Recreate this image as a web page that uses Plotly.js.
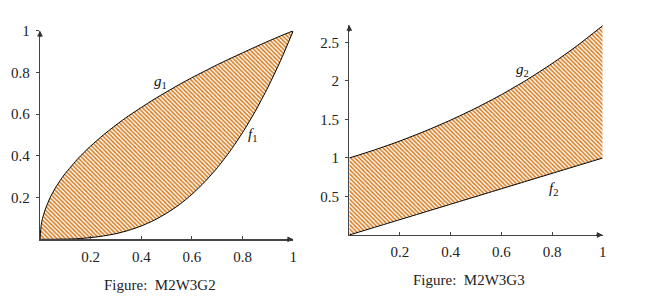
<!DOCTYPE html>
<html>
<head>
<meta charset="utf-8">
<script src="https://cdn.plot.ly/plotly-3.0.1.min.js"></script>
<style>
  html, body { margin: 0; padding: 0; background: #fff; }
  #chart { width: 647px; height: 298px; }
</style>
</head>
<body>
<div id="chart"></div>
<script>
// Region between g1 and f1 on [0, 1]
const x1 = [0, 0.005, 0.01, 0.02, 0.04, 0.06, 0.08, 0.1, 0.15, 0.2, 0.25, 0.3, 0.35, 0.4, 0.45, 0.5, 0.55, 0.6, 0.65, 0.7, 0.75, 0.8, 0.85, 0.9, 0.95, 1];
const g1 = [0, 0.071, 0.1, 0.141, 0.2, 0.245, 0.283, 0.316, 0.387, 0.447, 0.5, 0.548, 0.592, 0.632, 0.671, 0.707, 0.742, 0.775, 0.806, 0.837, 0.866, 0.894, 0.922, 0.949, 0.975, 1];
const f1 = [0, 0, 0, 0, 0, 0, 0.001, 0.001, 0.003, 0.008, 0.016, 0.027, 0.043, 0.064, 0.091, 0.125, 0.166, 0.216, 0.275, 0.343, 0.422, 0.512, 0.614, 0.729, 0.857, 1];

// Region between g2 and f2 on [0, 1]
const x2 = [0, 0.1, 0.2, 0.3, 0.4, 0.5, 0.6, 0.7, 0.8, 0.9, 1];
const g2 = [1, 1.105, 1.221, 1.35, 1.492, 1.649, 1.822, 2.014, 2.226, 2.46, 2.718];
const f2 = [0, 0.1, 0.2, 0.3, 0.4, 0.5, 0.6, 0.7, 0.8, 0.9, 1];

const ticks1x = [0.2, 0.4, 0.6, 0.8, 1];
const ticks1y = [0.2, 0.4, 0.6, 0.8, 1];
const ticks2x = [0.2, 0.4, 0.6, 0.8, 1];
const ticks2y = [0.5, 1, 1.5, 2, 2.5];

const captions = ['Figure:  M2W3G2', 'Figure:  M2W3G3'];

const SERIF = 'Liberation Serif';
const hatch = { shape: '\\', fgcolor: '#d97f26', bgcolor: '#ffffff', size: 3, solidity: 0.55, fillmode: 'replace' };
const curve = { color: '#000', width: 1, shape: 'spline', smoothing: 0.6 };

function region(x, lower, upper, xa, ya) {
  return [
    { x: x, y: lower, xaxis: xa, yaxis: ya, mode: 'lines', line: curve, hoverinfo: 'skip' },
    { x: x, y: upper, xaxis: xa, yaxis: ya, mode: 'lines', line: curve, fill: 'tonexty',
      fillcolor: 'rgba(0,0,0,0)', fillpattern: hatch, hoverinfo: 'skip' }
  ];
}

const data = [].concat(region(x1, f1, g1, 'x', 'y'), region(x2, f2, g2, 'x2', 'y2'));

function axis(domain, range, tickvals, anchor, isX) {
  return {
    domain: domain, range: range, anchor: anchor,
    tickmode: 'array', tickvals: tickvals, ticktext: tickvals.map(String),
    showgrid: false, zeroline: false, showline: true, linecolor: '#444', linewidth: 1.3,
    ticks: isX ? 'inside' : 'outside', ticklen: 3, tickcolor: '#444', tickwidth: 1,
    tickfont: { family: SERIF, size: 15, color: '#222' }, ticklabelstandoff: 3,
    fixedrange: true
  };
}

const arrow = (x, y, xr, yr, ax, ay) => ({
  x: x, y: y, xref: xr, yref: yr, text: '', showarrow: true, ax: ax, ay: ay,
  arrowhead: 2, arrowsize: 0.9, arrowwidth: 1.3, arrowcolor: '#333'
});

const label = (txt, x, y, xr, yr) => ({
  x: x, y: y, xref: xr, yref: yr, text: txt, showarrow: false,
  xanchor: 'center', yanchor: 'middle',
  font: { family: SERIF, size: 15, color: '#111' }
});

const caption = (txt, px, py) => ({
  x: px / 647, y: 1 - py / 298, xref: 'paper', yref: 'paper', text: txt, showarrow: false,
  xanchor: 'center', yanchor: 'middle',
  font: { family: SERIF, size: 15, color: '#222' }
});

const layout = {
  width: 647, height: 298,
  margin: { l: 0, r: 0, t: 0, b: 0 },
  paper_bgcolor: '#fff', plot_bgcolor: 'rgba(0,0,0,0)',
  showlegend: false,
  xaxis: axis([40 / 647, 293.3 / 647], [0, 1], ticks1x, 'y', true),
  yaxis: axis([1 - 239.3 / 298, 1 - 30.7 / 298], [0, 1], ticks1y, 'x', false),
  xaxis2: axis([349.3 / 647, 602.7 / 647], [0, 1], ticks2x, 'y2', true),
  yaxis2: axis([1 - 235 / 298, 1 - 25 / 298], [0, 2.727], ticks2y, 'x2', false),
  annotations: [
    arrow(1, 0, 'x', 'y', -8, 0),
    arrow(0, 1, 'x', 'y', 0, 8),
    arrow(1, 0, 'x2', 'y2', -8, 0),
    arrow(0, 2.727, 'x2', 'y2', 0, 8),
    label('<i>g</i><sub>1</sub>', 0.474, 0.755, 'x', 'y'),
    label('<i>f</i><sub>1</sub>', 0.84, 0.5, 'x', 'y'),
    label('<i>g</i><sub>2</sub>', 0.685, 2.14, 'x2', 'y2'),
    label('<i>f</i><sub>2</sub>', 0.805, 0.6, 'x2', 'y2'),
    caption(captions[0], 160, 285),
    caption(captions[1], 469, 280)
  ]
};

Plotly.newPlot('chart', data, layout, { staticPlot: true, displayModeBar: false });
</script>
</body>
</html>
